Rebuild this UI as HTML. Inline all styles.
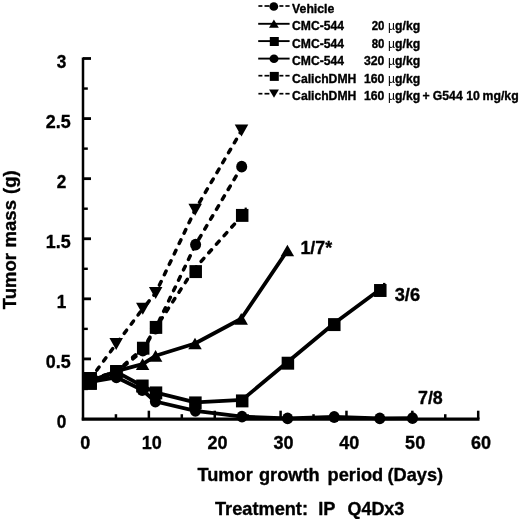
<!DOCTYPE html>
<html lang="en">
<head>
<meta charset="utf-8">
<title>Tumor mass vs tumor growth period</title>
<style>
html, body { margin: 0; padding: 0; background: #fff; }
body { width: 520px; height: 519px; overflow: hidden; }
svg { display: block; }
svg text { font-family: "Liberation Sans", sans-serif; fill: #000; stroke: #000; stroke-width: 0.35px; stroke-linejoin: round; }
</style>
</head>
<body>
<svg width="520" height="519" viewBox="0 0 520 519" fill="#000">
<rect x="0" y="0" width="520" height="519" fill="#fff"/>
<g stroke="#000" fill="none" stroke-linecap="butt">
<path d="M83.0 57.5 V420.25" stroke-width="2.5"/>
<path d="M81.75 419.15 H479.5" stroke-width="3.1"/>
<path d="M83.0 358.9166666666667 H91.0" stroke-width="2.8"/>
<path d="M83.0 298.8333333333333 H91.0" stroke-width="2.8"/>
<path d="M83.0 238.75 H91.0" stroke-width="2.8"/>
<path d="M83.0 178.66666666666666 H91.0" stroke-width="2.8"/>
<path d="M83.0 118.58333333333331 H91.0" stroke-width="2.8"/>
<path d="M83.0 58.5 H91.0" stroke-width="2.8"/>
<path d="M83.0 388.9583333333333 H87.8" stroke-width="2.4"/>
<path d="M83.0 328.875 H87.8" stroke-width="2.4"/>
<path d="M83.0 268.79166666666663 H87.8" stroke-width="2.4"/>
<path d="M83.0 208.70833333333334 H87.8" stroke-width="2.4"/>
<path d="M83.0 148.625 H87.8" stroke-width="2.4"/>
<path d="M83.0 88.54166666666669 H87.8" stroke-width="2.4"/>
<path d="M115.93333333333334 419.0 V414.2" stroke-width="2.5"/>
<path d="M148.86666666666667 419.0 V410.7" stroke-width="2.5"/>
<path d="M181.8 419.0 V414.2" stroke-width="2.5"/>
<path d="M214.73333333333332 419.0 V410.7" stroke-width="2.5"/>
<path d="M247.66666666666666 419.0 V414.2" stroke-width="2.5"/>
<path d="M280.6 419.0 V410.7" stroke-width="2.5"/>
<path d="M313.5333333333333 419.0 V414.2" stroke-width="2.5"/>
<path d="M346.46666666666664 419.0 V410.7" stroke-width="2.5"/>
<path d="M379.4 419.0 V414.2" stroke-width="2.5"/>
<path d="M412.3333333333333 419.0 V410.7" stroke-width="2.5"/>
<path d="M445.26666666666665 419.0 V414.2" stroke-width="2.5"/>
<path d="M478.2 419.0 V410.7" stroke-width="2.5"/>
</g>
<text transform="translate(66.2,428.1) scale(0.955,1)" font-size="18.0" font-weight="bold" text-anchor="end">0</text>
<text transform="translate(70.6,368.0166666666667) scale(0.995,1)" font-size="18.0" font-weight="bold" text-anchor="end">0.5</text>
<text transform="translate(66.2,307.93333333333334) scale(0.955,1)" font-size="18.0" font-weight="bold" text-anchor="end">1</text>
<text transform="translate(70.6,247.85) scale(0.995,1)" font-size="18.0" font-weight="bold" text-anchor="end">1.5</text>
<text transform="translate(66.2,187.76666666666665) scale(0.955,1)" font-size="18.0" font-weight="bold" text-anchor="end">2</text>
<text transform="translate(70.6,127.68333333333331) scale(0.995,1)" font-size="18.0" font-weight="bold" text-anchor="end">2.5</text>
<text transform="translate(66.2,67.6) scale(0.955,1)" font-size="18.0" font-weight="bold" text-anchor="end">3</text>
<text transform="translate(85.2,448.8) scale(1.0,1)" font-size="18.0" font-weight="bold" text-anchor="middle">0</text>
<text transform="translate(151.66666666666669,449.2) scale(1.0,1)" font-size="18.0" font-weight="bold" text-anchor="middle">10</text>
<text transform="translate(217.53333333333333,449.2) scale(1.0,1)" font-size="18.0" font-weight="bold" text-anchor="middle">20</text>
<text transform="translate(283.40000000000003,449.2) scale(1.0,1)" font-size="18.0" font-weight="bold" text-anchor="middle">30</text>
<text transform="translate(349.26666666666665,449.2) scale(1.0,1)" font-size="18.0" font-weight="bold" text-anchor="middle">40</text>
<text transform="translate(415.1333333333333,449.2) scale(1.0,1)" font-size="18.0" font-weight="bold" text-anchor="middle">50</text>
<text transform="translate(481.0,449.2) scale(1.0,1)" font-size="18.0" font-weight="bold" text-anchor="middle">60</text>
<text transform="translate(197.5,481) scale(1.0,1)" font-size="18.2" font-weight="bold" text-anchor="start">Tumor</text>
<text transform="translate(259.0,481) scale(1.0,1)" font-size="18.2" font-weight="bold" text-anchor="start">growth</text>
<text transform="translate(327.6,481) scale(1.0,1)" font-size="18.2" font-weight="bold" text-anchor="start">period</text>
<text transform="translate(387.5,481) scale(1.0,1)" font-size="18.2" font-weight="bold" text-anchor="start">(Days)</text>
<text transform="translate(215.0,514.6) scale(1.0,1)" font-size="18.2" font-weight="bold" text-anchor="start">Treatment:</text>
<text transform="translate(318.2,514.6) scale(1.0,1)" font-size="18.2" font-weight="bold" text-anchor="start">IP</text>
<text transform="translate(347.5,514.6) scale(0.985,1)" font-size="18.2" font-weight="bold" text-anchor="start">Q4Dx3</text>
<text transform="translate(15.6,309.2) rotate(-90) scale(1.0,1)" font-size="18.5" font-weight="bold" text-anchor="start">Tumor</text>
<text transform="translate(15.6,247.4) rotate(-90) scale(1.0,1)" font-size="18.5" font-weight="bold" text-anchor="start">mass</text>
<text transform="translate(15.6,194.0) rotate(-90) scale(1.0,1)" font-size="18.5" font-weight="bold" text-anchor="start">(g)</text>
<path d="M90.3 379 L116.2 344 L142.8 308.7" fill="none" stroke="#000" stroke-width="3.5" stroke-linejoin="round" stroke-dasharray="4.0 7.5" stroke-dashoffset="0.66" stroke-linecap="round"/>
<path d="M142.8 308.7 L155.7 293 L195.2 209.7 L241.5 130.6" fill="none" stroke="#000" stroke-width="3.5" stroke-linejoin="round" stroke-dasharray="4.0 7.5" stroke-dashoffset="5.44" stroke-linecap="round"/>
<path d="M83.55 373.0 L97.05 373.0 L90.3 385.0 Z"/>
<path d="M109.45 338.0 L122.95 338.0 L116.2 350.0 Z"/>
<path d="M136.05 302.7 L149.55 302.7 L142.8 314.7 Z"/>
<path d="M148.95 287.0 L162.45 287.0 L155.7 299.0 Z"/>
<path d="M188.45 203.7 L201.95 203.7 L195.2 215.7 Z"/>
<path d="M234.75 124.6 L248.25 124.6 L241.5 136.6 Z"/>
<path d="M90.3 378.5 L116.4 372.5 L142.8 350.6 L155.5 328.5 L195.6 244.6 L241.7 166.7" fill="none" stroke="#000" stroke-width="3.5" stroke-linejoin="round" stroke-dasharray="4.0 7.5" stroke-dashoffset="9.42" stroke-linecap="round"/>
<ellipse cx="90.3" cy="378.5" rx="5.52" ry="5.9"/>
<ellipse cx="116.4" cy="372.5" rx="5.52" ry="5.9"/>
<ellipse cx="142.8" cy="350.6" rx="5.52" ry="5.9"/>
<ellipse cx="155.5" cy="328.5" rx="5.52" ry="5.9"/>
<ellipse cx="195.6" cy="244.6" rx="5.52" ry="5.9"/>
<ellipse cx="241.7" cy="166.7" rx="5.52" ry="5.9"/>
<path d="M90.3 380 L116.4 371.5 L143.2 348.2 L156 327.4 L193.6 269.8" fill="none" stroke="#000" stroke-width="3.5" stroke-linejoin="round" stroke-dasharray="4.0 7.5" stroke-dashoffset="8.61" stroke-linecap="round"/>
<path d="M193.6 269.8 L242.2 215.4" fill="none" stroke="#000" stroke-width="3.5" stroke-linejoin="round" stroke-dasharray="4.0 7.5" stroke-dashoffset="0.15" stroke-linecap="round"/>
<rect x="84.05" y="373.53" width="12.5" height="12.94"/>
<rect x="110.15" y="365.03" width="12.5" height="12.94"/>
<rect x="136.95" y="341.73" width="12.5" height="12.94"/>
<rect x="149.75" y="320.93" width="12.5" height="12.94"/>
<rect x="189.45" y="265.13" width="12.5" height="12.94"/>
<rect x="235.95" y="208.93" width="12.5" height="12.94"/>
<path d="M90.3 381.00 L116.4 371.20 L142.6 364.20 L155.6 355.80 L195 343.50 L241.2 318.80 L287.4 250.50" fill="none" stroke="#000" stroke-width="3.8" stroke-linejoin="round"/>
<path d="M83.55 386.85 L97.05 386.85 L90.3 375.15 Z"/>
<path d="M109.65 377.05 L123.15 377.05 L116.4 365.34999999999997 Z"/>
<path d="M135.85 370.05 L149.35 370.05 L142.6 358.34999999999997 Z"/>
<path d="M148.85 361.65000000000003 L162.35 361.65000000000003 L155.6 349.95 Z"/>
<path d="M188.25 349.35 L201.75 349.35 L195 337.65 Z"/>
<path d="M234.45 324.65000000000003 L247.95 324.65000000000003 L241.2 312.95 Z"/>
<path d="M280.65 256.35 L294.15 256.35 L287.4 244.65 Z"/>
<path d="M90.3 382.00 L116.4 377.30 L142.2 390.00 L155.4 401.50 L195.4 410.80 L242 416.60 L287.6 418.40 L334.2 417.00 L379.8 418.40 L412.5 418.20" fill="none" stroke="#000" stroke-width="3.8" stroke-linejoin="round"/>
<ellipse cx="90.3" cy="382" rx="5.52" ry="5.9"/>
<ellipse cx="116.4" cy="377.3" rx="5.52" ry="5.9"/>
<ellipse cx="142.2" cy="390.0" rx="5.52" ry="5.9"/>
<ellipse cx="155.4" cy="401.5" rx="5.52" ry="5.9"/>
<ellipse cx="195.4" cy="410.8" rx="5.52" ry="5.9"/>
<ellipse cx="242" cy="416.6" rx="5.52" ry="5.9"/>
<ellipse cx="287.6" cy="418.4" rx="5.52" ry="5.9"/>
<ellipse cx="334.2" cy="417.0" rx="5.52" ry="5.9"/>
<ellipse cx="379.8" cy="418.4" rx="5.52" ry="5.9"/>
<ellipse cx="412.5" cy="418.2" rx="5.52" ry="5.9"/>
<path d="M90.3 383.20 L116.4 371.80 L142.4 386.00 L156 392.60 L195.4 402.40 L242.2 399.90 L287.9 361.80 L334.3 323.20 L380.3 289.30" fill="none" stroke="#000" stroke-width="3.8" stroke-linejoin="round"/>
<rect x="84.05" y="376.73" width="12.5" height="12.94"/>
<rect x="110.15" y="365.33" width="12.5" height="12.94"/>
<rect x="136.15" y="379.53" width="12.5" height="12.94"/>
<rect x="149.75" y="386.43" width="12.5" height="12.94"/>
<rect x="189.15" y="396.43" width="12.5" height="12.94"/>
<rect x="235.95" y="394.43" width="12.5" height="12.94"/>
<rect x="281.65" y="356.73" width="12.5" height="12.94"/>
<rect x="328.05" y="318.13" width="12.5" height="12.94"/>
<rect x="374.05" y="284.03" width="12.5" height="12.94"/>
<rect x="383.0" y="282.9" width="2.4" height="2"/>
<rect x="244.6" y="207.6" width="2.2" height="2"/>
<rect x="83.64999999999999" y="372.0" width="13.3" height="17.8"/>
<text transform="translate(300.4,253.9) scale(1.02,1)" font-size="17.5" font-weight="bold" text-anchor="start">1/7*</text>
<text transform="translate(394.7,301.1) scale(1.045,1)" font-size="17.5" font-weight="bold" text-anchor="start">3/6</text>
<text transform="translate(418.0,403.5) scale(1.02,1)" font-size="17.5" font-weight="bold" text-anchor="start">7/8</text>
<path d="M258.4 6.0 H262.4" stroke="#000" stroke-width="1.7"/>
<path d="M264.5 6.0 H269.4" stroke="#000" stroke-width="1.7"/>
<path d="M279.4 6.0 H283.4" stroke="#000" stroke-width="1.7"/>
<path d="M285.4 6.0 H289.6" stroke="#000" stroke-width="1.7"/>
<ellipse cx="273.8" cy="6.45" rx="4.42" ry="4.25"/>
<path d="M258.2 23.8 H289.6" stroke="#000" stroke-width="1.9"/>
<path d="M269.00000000000006 27.8 L278.8 27.8 L273.90000000000003 19.400000000000002 Z"/>
<path d="M258.2 41.1 H289.6" stroke="#000" stroke-width="1.9"/>
<rect x="269.80" y="37.00" width="9.0" height="9.00"/>
<path d="M258.2 58.6 H289.6" stroke="#000" stroke-width="1.9"/>
<ellipse cx="274.0" cy="58.7" rx="4.47" ry="4.3"/>
<path d="M258.4 75.7 H262.4" stroke="#000" stroke-width="1.7"/>
<path d="M264.5 75.7 H269.4" stroke="#000" stroke-width="1.7"/>
<path d="M279.4 75.7 H283.4" stroke="#000" stroke-width="1.7"/>
<path d="M285.4 75.7 H289.6" stroke="#000" stroke-width="1.7"/>
<rect x="269.80" y="71.90" width="9.0" height="9.00"/>
<path d="M258.4 93.7 H262.4" stroke="#000" stroke-width="1.7"/>
<path d="M264.5 93.7 H269.4" stroke="#000" stroke-width="1.7"/>
<path d="M279.4 93.7 H283.4" stroke="#000" stroke-width="1.7"/>
<path d="M285.4 93.7 H289.6" stroke="#000" stroke-width="1.7"/>
<path d="M269.1 89.39999999999999 L278.9 89.39999999999999 L274.0 97.7 Z"/>
<text transform="translate(292.1,12.7) scale(1.02,1)" font-size="12.0" font-weight="bold" text-anchor="start">Vehicle</text>
<text transform="translate(292.1,30.3) scale(1.012,1)" font-size="12.0" font-weight="bold" text-anchor="start">CMC-544</text>
<text transform="translate(384.4,30.3) scale(0.955,1)" font-size="12.0" font-weight="bold" text-anchor="end">20</text>
<text transform="translate(388.0,30.3) scale(1.02,1)" font-size="12.0" font-weight="bold" text-anchor="start"><tspan font-weight="normal" stroke="none">µ</tspan>g/kg</text>
<text transform="translate(292.1,47.8) scale(1.012,1)" font-size="12.0" font-weight="bold" text-anchor="start">CMC-544</text>
<text transform="translate(384.4,47.8) scale(0.955,1)" font-size="12.0" font-weight="bold" text-anchor="end">80</text>
<text transform="translate(388.0,47.8) scale(1.02,1)" font-size="12.0" font-weight="bold" text-anchor="start"><tspan font-weight="normal" stroke="none">µ</tspan>g/kg</text>
<text transform="translate(292.1,65.3) scale(1.012,1)" font-size="12.0" font-weight="bold" text-anchor="start">CMC-544</text>
<text transform="translate(384.4,65.3) scale(1.02,1)" font-size="12.0" font-weight="bold" text-anchor="end">320</text>
<text transform="translate(388.0,65.3) scale(1.02,1)" font-size="12.0" font-weight="bold" text-anchor="start"><tspan font-weight="normal" stroke="none">µ</tspan>g/kg</text>
<text transform="translate(292.1,82.7) scale(1.015,1)" font-size="12.0" font-weight="bold" text-anchor="start">CalichDMH</text>
<text transform="translate(384.4,82.7) scale(1.02,1)" font-size="12.0" font-weight="bold" text-anchor="end">160</text>
<text transform="translate(388.0,82.7) scale(1.02,1)" font-size="12.0" font-weight="bold" text-anchor="start"><tspan font-weight="normal" stroke="none">µ</tspan>g/kg</text>
<text transform="translate(292.1,99.9) scale(1.015,1)" font-size="12.0" font-weight="bold" text-anchor="start">CalichDMH</text>
<text transform="translate(384.4,99.9) scale(1.02,1)" font-size="12.0" font-weight="bold" text-anchor="end">160</text>
<text transform="translate(388.0,99.9) scale(1.02,1)" font-size="12.0" font-weight="bold" text-anchor="start"><tspan font-weight="normal" stroke="none">µ</tspan>g/kg</text>
<text transform="translate(422.4,99.9) scale(1.02,1)" font-size="12.0" font-weight="bold" text-anchor="start">+</text>
<text transform="translate(432.8,99.9) scale(1.02,1)" font-size="12.0" font-weight="bold" text-anchor="start">G544</text>
<text transform="translate(466.3,99.9) scale(1.02,1)" font-size="12.0" font-weight="bold" text-anchor="start">10</text>
<text transform="translate(482.6,99.9) scale(1.02,1)" font-size="12.0" font-weight="bold" text-anchor="start">mg/kg</text>
</svg>
</body>
</html>
